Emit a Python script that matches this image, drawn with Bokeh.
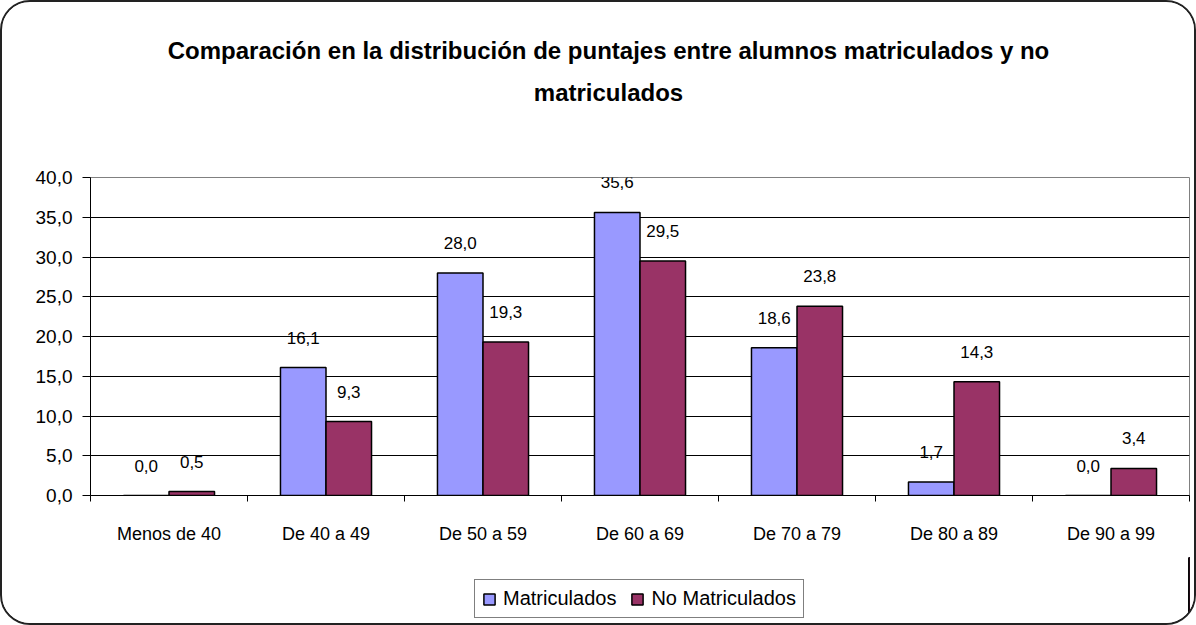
from bokeh.plotting import figure
from bokeh.layouts import column
from bokeh.models import (ColumnDataSource, Range1d, LinearAxis, Label,
                          FixedTicker, Legend, LegendItem, LabelSet)
from bokeh.transform import dodge
from bokeh.core.properties import value
from bokeh.embed import file_html
from bokeh.resources import INLINE

# ---------------- data ----------------
categories = ["Menos de 40", "De 40 a 49", "De 50 a 59", "De 60 a 69",
              "De 70 a 79", "De 80 a 89", "De 90 a 99"]
matriculados = [0.0, 16.1, 28.0, 35.6, 18.6, 1.7, 0.0]
no_matriculados = [0.5, 9.3, 19.3, 29.5, 23.8, 14.3, 3.4]
series_names = ["Matriculados", "No Matriculados"]
y_ticks = [0, 5, 10, 15, 20, 25, 30, 35, 40]
y_tick_labels = ["0,0", "5,0", "10,0", "15,0", "20,0", "25,0", "30,0", "35,0", "40,0"]
title_lines = ["Comparación en la distribución de puntajes entre alumnos matriculados y no",
               "matriculados"]
colors = ["#9999FF", "#993366"]

FONT = "Liberation Sans"
W = 1192
FRAME_LEFT = 88   # the column aligns the plot frames of its children to this


def fmt(v):
    return f"{v:.1f}".replace(".", ",")


n_cat = len(categories)
centers = [i + 0.5 for i in range(n_cat)]      # category slot centres on the axis
boundaries = list(range(n_cat + 1))             # slot boundaries (tick marks)

src = ColumnDataSource(dict(
    xc=centers,
    m=matriculados,
    n=no_matriculados,
    m_lbl=[fmt(v) for v in matriculados],
    n_lbl=[fmt(v) for v in no_matriculados],
))


def blank_fig(h):
    f = figure(width=W, height=h, output_backend="svg", toolbar_location=None,
               x_axis_location=None, y_axis_location=None, title=None, min_border=0)
    f.outline_line_color = None
    f.background_fill_color = "white"
    f.border_fill_color = "white"
    f.xgrid.grid_line_color = None
    f.ygrid.grid_line_color = None
    return f


# ---------------- title strip ----------------
HT = 120
pt = blank_fig(HT)
for txt, yy in zip(title_lines, (HT - 48, HT - 90)):
    pt.add_layout(Label(x=606 - FRAME_LEFT, y=yy, x_units="screen", y_units="screen", text=txt,
                        text_align="center", text_baseline="middle",
                        text_font=FONT, text_font_size="24px", text_font_style="bold",
                        text_color="black"))

# ---------------- main chart ----------------
HM = 435
p = figure(x_range=Range1d(0, n_cat), y_range=Range1d(0, 40),
           width=W, height=HM, output_backend="svg", toolbar_location=None,
           x_axis_location=None, title=None,
           min_border_left=FRAME_LEFT, min_border_right=5, min_border_top=55,
           min_border_bottom=62)
p.background_fill_color = "white"
p.border_fill_color = "white"
p.outline_line_color = "#808080"
p.outline_line_width = 1

yax = p.yaxis[0]
yax.ticker = FixedTicker(ticks=y_ticks)
yax.major_label_overrides = {t: l for t, l in zip(y_ticks, y_tick_labels)}
yax.major_label_text_font = FONT
yax.major_label_text_font_size = "19px"
yax.major_label_text_color = "black"
yax.major_tick_out = 8
yax.major_tick_in = 0
yax.minor_tick_line_color = None
yax.axis_line_color = "black"
yax.major_tick_line_color = "black"
yax.major_label_standoff = 10

p.ygrid.ticker = FixedTicker(ticks=y_ticks)
p.ygrid.grid_line_color = "black"
p.ygrid.grid_line_width = 1
p.xgrid.grid_line_color = None

tick_axis = LinearAxis(ticker=FixedTicker(ticks=boundaries),
                       major_tick_out=6, major_tick_in=0, minor_tick_line_color=None,
                       major_label_text_color=None, major_label_text_font_size="1px",
                       major_label_standoff=0, axis_line_color="black",
                       major_tick_line_color="black")
p.add_layout(tick_axis, "below")
cat_axis = LinearAxis(ticker=FixedTicker(ticks=centers),
                      major_label_overrides={c: lab for c, lab in zip(centers, categories)},
                      axis_line_color=None, major_tick_line_color=None,
                      minor_tick_line_color=None,
                      major_tick_out=0, major_tick_in=0,
                      major_label_standoff=22,
                      major_label_text_font=FONT, major_label_text_font_size="18px",
                      major_label_text_color="black")
p.add_layout(cat_axis, "below")

off = 0.145
bw = 0.29
p.vbar(x=dodge("xc", -off), top="m", width=bw, source=src,
       fill_color=colors[0], line_color="black", line_width=1.5)
p.vbar(x=dodge("xc", off), top="n", width=bw, source=src,
       fill_color=colors[1], line_color="black", line_width=1.5)

for col, lbl, sgn in (("m", "m_lbl", -1), ("n", "n_lbl", 1)):
    p.add_layout(LabelSet(x=dodge("xc", sgn * off), y=col, text=lbl, source=src,
                          y_offset=30, text_align="center", text_baseline="middle",
                          text_font=value(FONT), text_font_size="17px", text_color="black"))

# ---------------- legend strip ----------------
HL = 621 - HT - HM
pl = blank_fig(HL)
# the same series, but with a view range that keeps the bars out of sight: only the keys show
pl.x_range = Range1d(-20, -19)
pl.y_range = Range1d(0, 1)
k1 = pl.vbar(x=dodge("xc", -off), top="m", width=bw, source=src,
             fill_color=colors[0], line_color="black", line_width=1.5)
k2 = pl.vbar(x=dodge("xc", off), top="n", width=bw, source=src,
             fill_color=colors[1], line_color="black", line_width=1.5)
legend = Legend(items=[LegendItem(label=series_names[0], renderers=[k1]),
                       LegendItem(label=series_names[1], renderers=[k2])],
                location=(472 - FRAME_LEFT, 5), orientation="horizontal", margin=0,
                label_text_font=FONT, label_text_font_size="20px",
                label_text_color="black",
                glyph_width=14, glyph_height=14, label_standoff=7, spacing=14,
                padding=7, border_line_color="black", border_line_width=1,
                background_fill_color="white", background_fill_alpha=1)
pl.add_layout(legend)

layout = column(pt, p, pl, spacing=0)
layout.styles = {"border": "2px solid #222", "border-radius": "30px", "overflow": "hidden"}

open("out.html", "w").write(file_html(layout, INLINE))
